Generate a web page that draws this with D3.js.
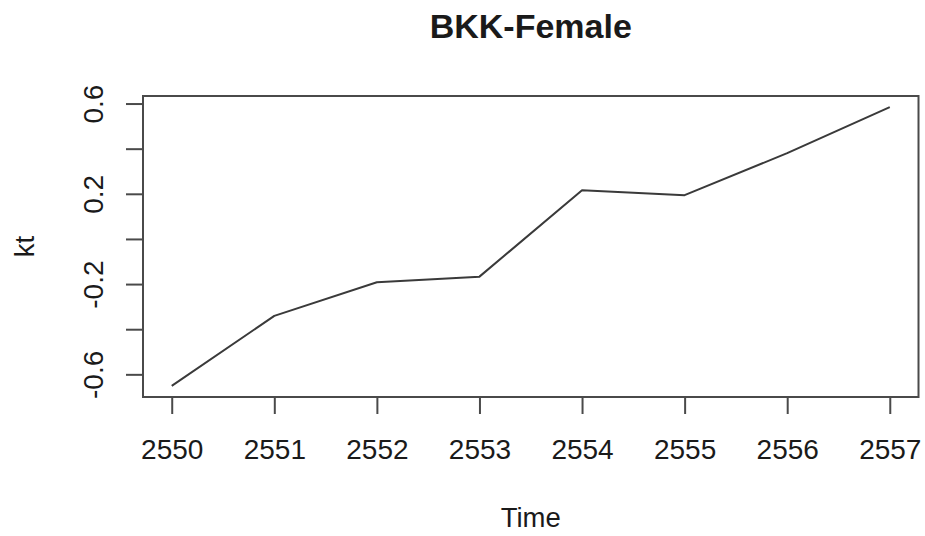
<!DOCTYPE html>
<html>
<head>
<meta charset="utf-8">
<script src="https://cdn.jsdelivr.net/npm/d3@7"></script>
<style>
  html, body { margin: 0; padding: 0; background: #fff; }
  svg { display: block; }
  text { font-family: "Liberation Sans", Arial, Helvetica, sans-serif; fill: #1a1a1a; }
</style>
</head>
<body>
<svg id="chart" width="925" height="536"></svg>
<script>
// Mortality index kt by year
const years = [2550, 2551, 2552, 2553, 2554, 2555, 2556, 2557];
const kt = [-0.651, -0.341, -0.192, -0.167, 0.216, 0.194, 0.380, 0.584];
const yTicks = [-0.6, -0.4, -0.2, 0, 0.2, 0.4, 0.6];
const yTickLabels = ["-0.6", "", "-0.2", "", "0.2", "", "0.6"];

const W = 925, H = 536;
const box = { left: 143, right: 918.5, top: 96, bottom: 397 };

const svg = d3.select("#chart");

// 4% padding on each side, as in base graphics
const xPad = (d3.max(years) - d3.min(years)) * 0.04;
const yPad = (d3.max(kt) - d3.min(kt)) * 0.04;

const x = d3.scaleLinear()
  .domain([d3.min(years) - xPad, d3.max(years) + xPad])
  .range([box.left, box.right]);
const y = d3.scaleLinear()
  .domain([d3.min(kt) - yPad, d3.max(kt) + yPad])
  .range([box.bottom, box.top]);

const stroke = "#4a4a4a";

// X axis
const gx = svg.append("g")
  .attr("transform", `translate(0,${box.bottom})`)
  .call(d3.axisBottom(x).tickValues(years).tickFormat(d => String(d)).tickSize(17).tickPadding(8));
gx.select(".domain").remove();
gx.selectAll(".tick line").attr("stroke", stroke).attr("stroke-width", 2);
gx.selectAll(".tick text")
  .attr("fill", "#1a1a1a")
  .style("font-size", "28px")
  .attr("y", 62).attr("dy", null);

// Y axis
const gy = svg.append("g")
  .attr("transform", `translate(${box.left},0)`)
  .call(d3.axisLeft(y).tickValues(yTicks).tickSize(17).tickFormat((d, i) => yTickLabels[i]));
gy.select(".domain").remove();
gy.selectAll(".tick line").attr("stroke", stroke).attr("stroke-width", 2);
gy.selectAll(".tick text")
  .attr("fill", "#1a1a1a")
  .style("font-size", "28px")
  .attr("x", null).attr("dy", null)
  .attr("text-anchor", "middle")
  .attr("transform", "translate(-40,0) rotate(-90)");

// Plot frame
svg.append("rect")
  .attr("x", box.left).attr("y", box.top)
  .attr("width", box.right - box.left).attr("height", box.bottom - box.top)
  .attr("fill", "none").attr("stroke", stroke).attr("stroke-width", 2);

// Series line
const line = d3.line().x((d, i) => x(years[i])).y(d => y(d));
svg.append("path")
  .datum(kt)
  .attr("d", line)
  .attr("fill", "none")
  .attr("stroke", "#3a3a3a")
  .attr("stroke-width", 2)
  .attr("stroke-linejoin", "round");

// Title and axis labels
const cx = (box.left + box.right) / 2;
svg.append("text")
  .attr("x", cx).attr("y", 38)
  .attr("text-anchor", "middle")
  .style("font-size", "34px").style("font-weight", "bold")
  .text("BKK-Female");

svg.append("text")
  .attr("x", cx).attr("y", 527)
  .attr("text-anchor", "middle")
  .style("font-size", "27.5px")
  .text("Time");

svg.append("text")
  .attr("transform", `translate(34,${(box.top + box.bottom) / 2}) rotate(-90)`)
  .attr("text-anchor", "middle")
  .style("font-size", "27.5px")
  .text("kt");
</script>
</body>
</html>
